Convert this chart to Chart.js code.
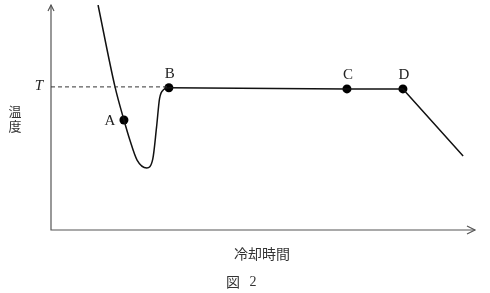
<!DOCTYPE html>
<html>
<head>
<meta charset="utf-8">
<script src="https://cdn.jsdelivr.net/npm/chart.js@4.4.1/dist/chart.umd.min.js"></script>
<style>
  html, body { margin: 0; padding: 0; background: #fff; }
  #wrap { width: 490px; height: 293px; }
</style>
</head>
<body>
<div id="wrap"><canvas id="coolingChart" width="490" height="293"></canvas></div>
<script>
// Cooling curve (time vs temperature), arbitrary units 0-100
const curveTime = [11.1, 15.1, 17.2, 18.6, 20.3, 22.6, 24.0, 24.9, 25.6, 26.6, 27.8];
const curveTemp = [100, 63.6, 48.9, 40.0, 31.1, 27.6, 31.5, 45.8, 58.4, 62.4, 63.2];

const plateauTime = [27.8, 69.8, 83.0, 97.2];
const plateauTemp = [63.2, 62.7, 62.7, 32.9];

const pointNames = ['A', 'B', 'C', 'D'];
const pointTime = [17.2, 27.8, 69.8, 83.0];
const pointTemp = [48.9, 63.2, 62.7, 62.7];

const levelT = 63.6;

const toXY = (xs, ys) => xs.map((x, i) => ({ x: x, y: ys[i] }));

// extra drawing: axes with arrows, dashed T line, labels
const decorations = {
    id: 'decorations',
    afterDraw(chart) {
        const ctx = chart.ctx;
        const area = chart.chartArea;
        const xs = chart.scales.x;
        const ys = chart.scales.y;
        ctx.save();

        // axes
        ctx.strokeStyle = '#555';
        ctx.lineWidth = 1.2;
        ctx.beginPath();
        ctx.moveTo(area.left, area.top);
        ctx.lineTo(area.left, area.bottom);
        ctx.lineTo(area.right, area.bottom);
        ctx.stroke();
        // arrow heads (open)
        ctx.beginPath();
        ctx.moveTo(area.left - 3, area.top + 6);
        ctx.lineTo(area.left, area.top);
        ctx.lineTo(area.left + 3, area.top + 6);
        ctx.moveTo(area.right - 8, area.bottom - 4);
        ctx.lineTo(area.right, area.bottom);
        ctx.lineTo(area.right - 8, area.bottom + 4);
        ctx.stroke();

        // dashed T level
        const yT = ys.getPixelForValue(levelT);
        ctx.strokeStyle = '#333';
        ctx.lineWidth = 1;
        ctx.setLineDash([4, 3]);
        ctx.beginPath();
        ctx.moveTo(area.left, yT);
        ctx.lineTo(xs.getPixelForValue(pointTime[1]), yT);
        ctx.stroke();
        ctx.setLineDash([]);

        ctx.fillStyle = '#222';
        ctx.textAlign = 'center';
        ctx.textBaseline = 'middle';
        ctx.font = 'italic 15px "Liberation Serif", "DejaVu Serif", serif';
        ctx.fillText('T', area.left - 12, yT - 1);

        // point labels
        ctx.font = '15px "Liberation Serif", "DejaVu Serif", serif';
        pointNames.forEach((name, i) => {
            const px = xs.getPixelForValue(pointTime[i]);
            const py = ys.getPixelForValue(pointTemp[i]);
            if (name === 'A') {
                ctx.fillText(name, px - 14, py + 1);
            } else {
                ctx.fillText(name, px + 1, py - 14);
            }
        });

        // axis titles and caption
        ctx.font = '13px "Noto Sans CJK JP", sans-serif';
        ctx.fillStyle = '#333';
        ctx.fillText('温', 15, 111);
        ctx.fillText('度', 15, 126);
        ctx.font = '14px "Noto Sans CJK JP", sans-serif';
        ctx.fillText('冷却時間', 262, 254);
        ctx.fillText('図', 233, 282);
        ctx.font = '14px "Liberation Serif", serif';
        ctx.fillText('2', 253, 282);
        ctx.restore();
    }
};

const chart = new Chart(document.getElementById('coolingChart').getContext('2d'), {
    type: 'scatter',
    data: {
        datasets: [
            {
                label: 'curve',
                data: toXY(curveTime, curveTemp),
                showLine: true,
                cubicInterpolationMode: 'monotone',
                borderColor: '#111',
                borderWidth: 1.5,
                pointRadius: 0,
                fill: false
            },
            {
                label: 'plateau',
                data: toXY(plateauTime, plateauTemp),
                showLine: true,
                tension: 0,
                borderColor: '#111',
                borderWidth: 1.5,
                pointRadius: 0,
                fill: false
            },
            {
                label: 'points',
                data: toXY(pointTime, pointTemp),
                showLine: false,
                pointRadius: 4.5,
                backgroundColor: '#000',
                borderColor: '#000',
                borderWidth: 0
            }
        ]
    },
    options: {
        responsive: false,
        animation: false,
        layout: { padding: { left: 51, top: 5, right: 15, bottom: 63 } },
        plugins: {
            legend: { display: false },
            tooltip: { enabled: false }
        },
        scales: {
            x: { type: 'linear', min: 0, max: 100, display: false },
            y: { type: 'linear', min: 0, max: 100, display: false }
        }
    },
    plugins: [decorations]
});
</script>
</body>
</html>
